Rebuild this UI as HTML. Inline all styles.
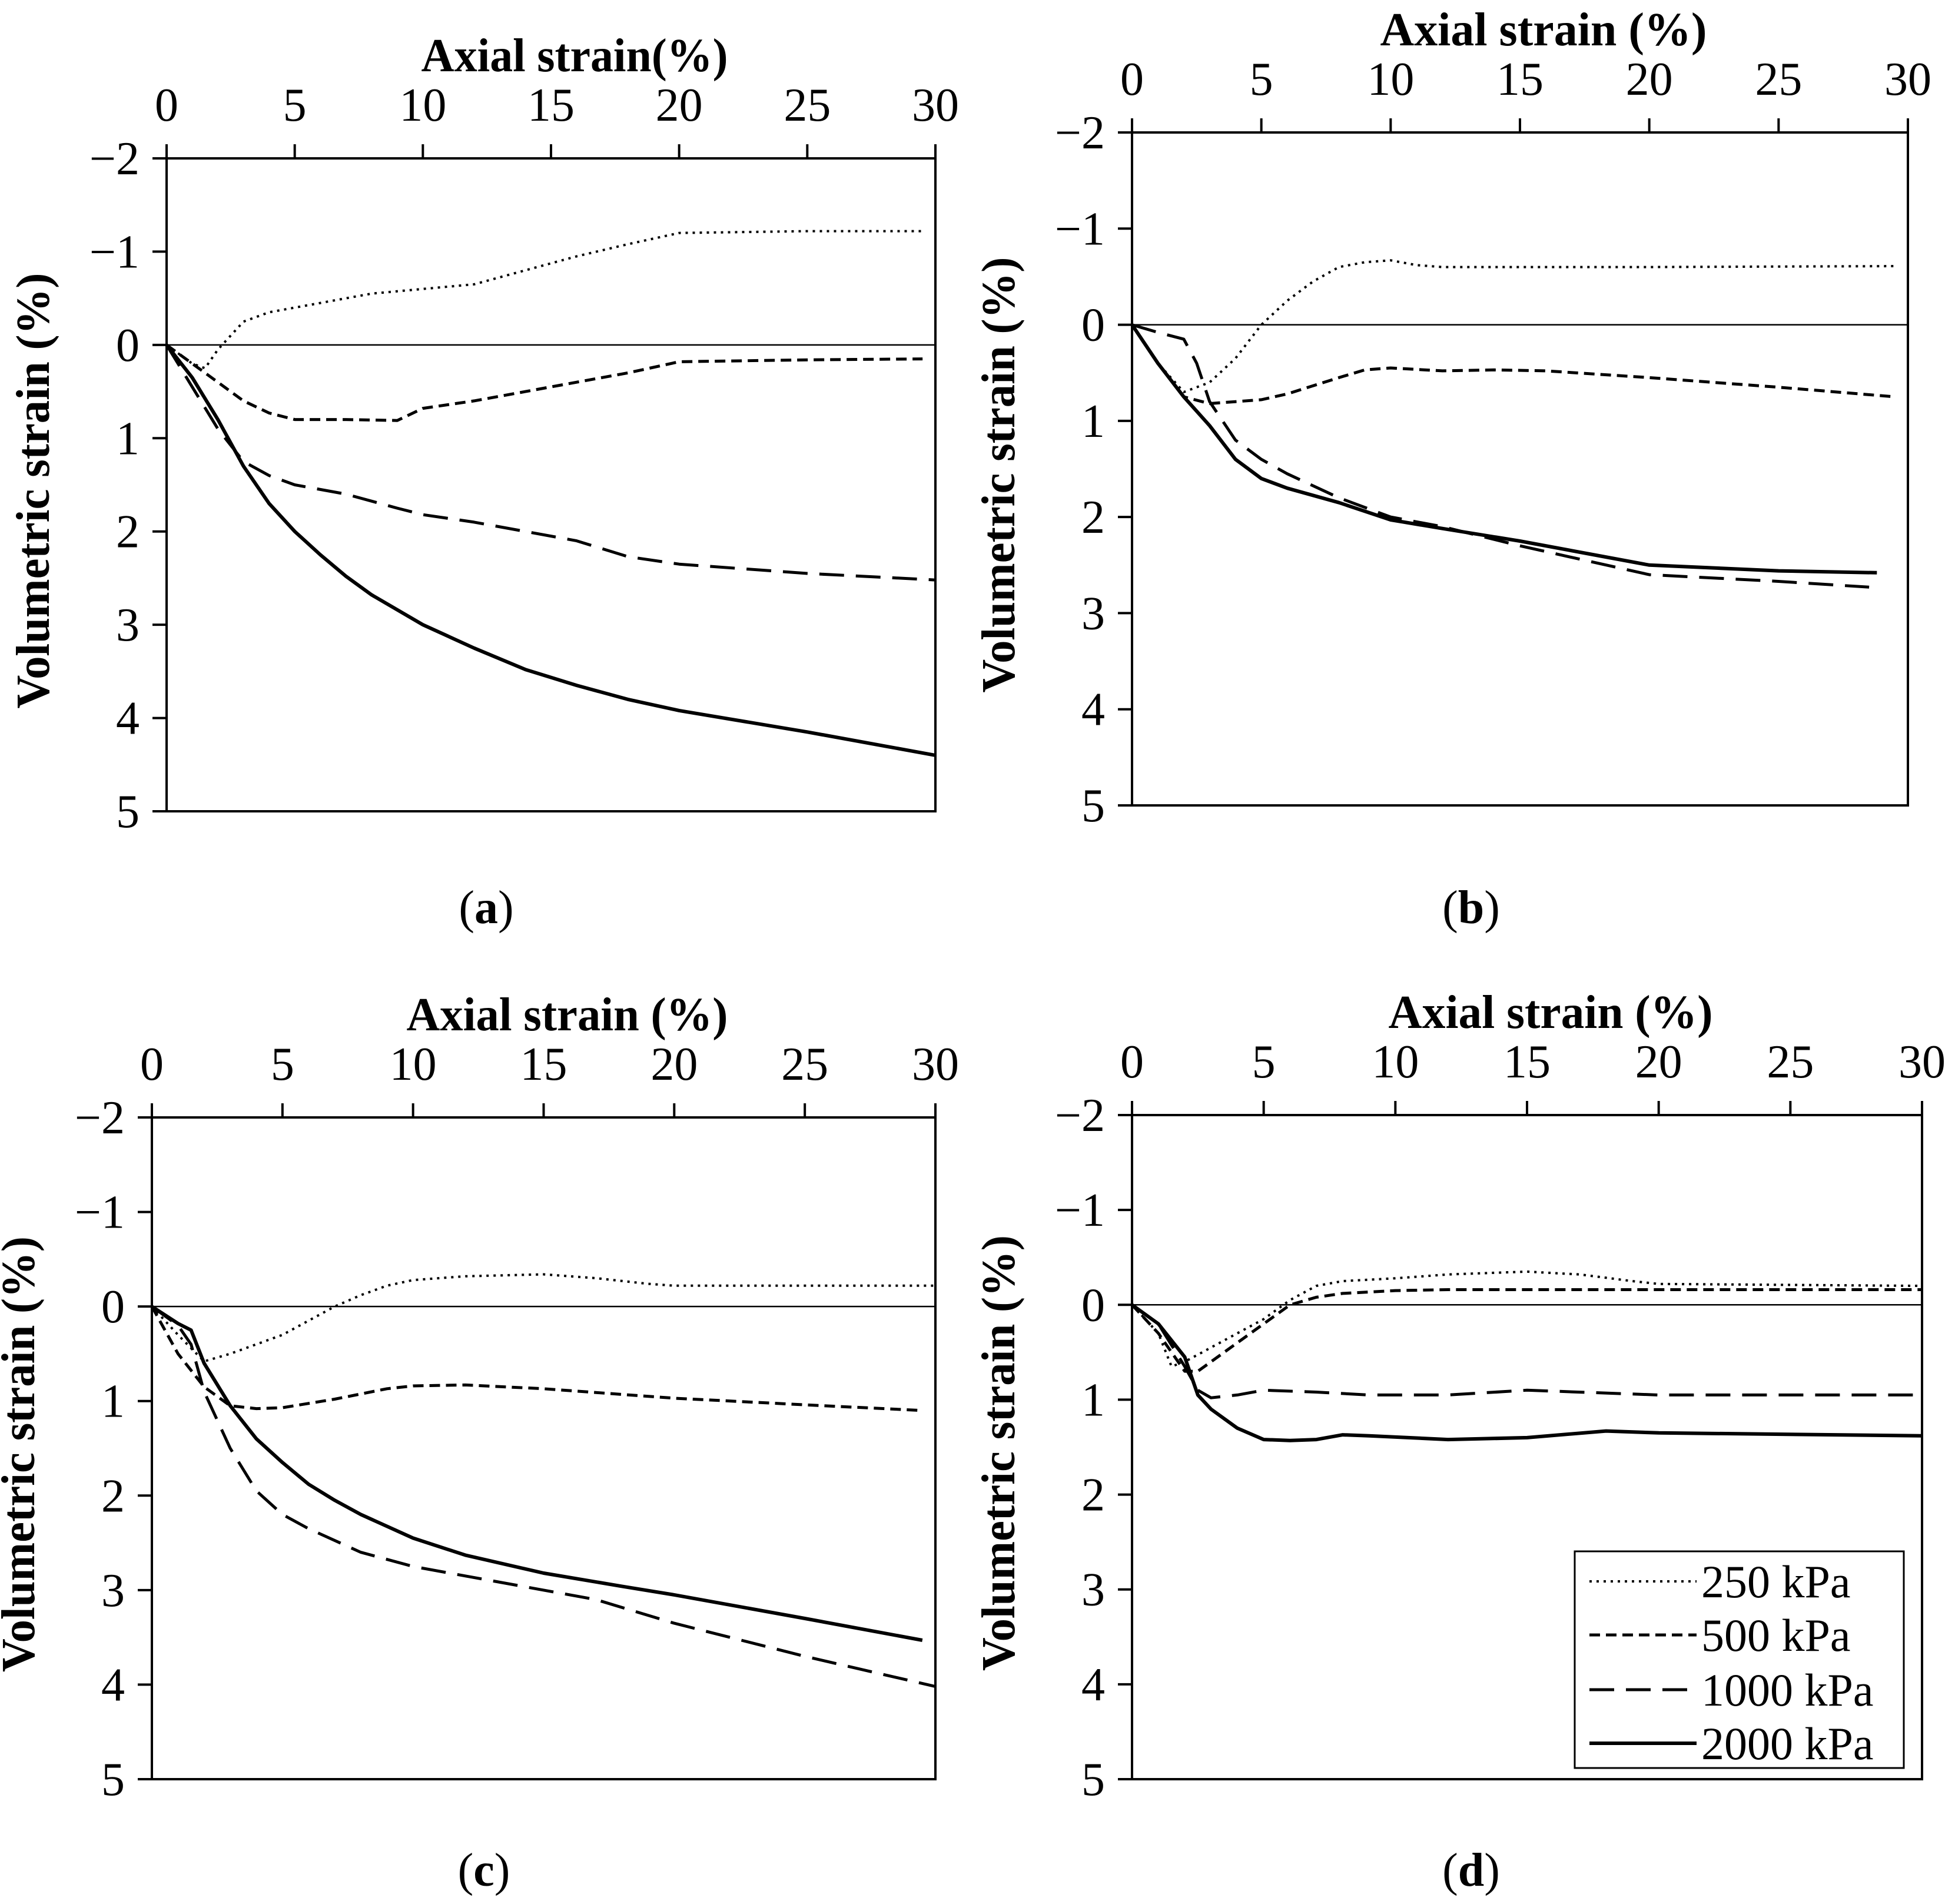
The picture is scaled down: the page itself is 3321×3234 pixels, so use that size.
<!DOCTYPE html>
<html><head><meta charset="utf-8"><style>
html,body{margin:0;padding:0;background:#fff;}
svg{display:block;}
text{font-family:"Liberation Serif",serif;fill:#000;}
</style></head>
<body>
<svg id="fig" width="3321" height="3234" viewBox="0 0 3321 3234" xmlns="http://www.w3.org/2000/svg"></svg>
<script>
// x tick labels and y tick labels
const xTicks = [0,5,10,15,20,25,30];
const yTicks = [-2,-1,0,1,2,3,4,5];
const seriesNames = ["250 kPa","500 kPa","1000 kPa","2000 kPa"];

// Panel (a)
const aX250 = [0,1,1.5,2,3,4,6,8,10,12,14,16,18,20,25,29.5];
const aY250 = [0,0.2,0.25,0.05,-0.25,-0.35,-0.45,-0.55,-0.6,-0.65,-0.8,-0.95,-1.08,-1.2,-1.22,-1.22];
const aX500 = [0,1,2,3,4,5,7,9,10,12,14,16,18,20,25,29.5];
const aY500 = [0,0.2,0.4,0.6,0.73,0.8,0.8,0.81,0.68,0.6,0.5,0.4,0.3,0.18,0.16,0.15];
const aX1000 = [0,1,2,3,4,5,7,9,10,12,14,16,18,20,25,30];
const aY1000 = [0,0.45,0.9,1.25,1.4,1.5,1.6,1.75,1.82,1.9,2.0,2.1,2.27,2.35,2.45,2.52];
const aX2000 = [0,1,2,3,4,5,6,7,8,10,12,14,16,18,20,25,30];
const aY2000 = [0,0.35,0.8,1.3,1.7,2.0,2.25,2.48,2.68,3.0,3.25,3.48,3.65,3.8,3.92,4.15,4.4];

// Panel (b)
const bX250 = [0,1,2,3,4,5,6,7,8,9,10,11,12,20,29.5];
const bY250 = [0,0.4,0.7,0.6,0.35,0.0,-0.25,-0.45,-0.6,-0.65,-0.67,-0.62,-0.6,-0.6,-0.61];
const bX500 = [0,1,2,3,4,5,6,8,9,10,12,14,16,20,25,29.5];
const bY500 = [0,0.4,0.75,0.82,0.8,0.78,0.72,0.55,0.47,0.45,0.48,0.47,0.48,0.55,0.65,0.75];
const bX1000 = [0,1,2,2.5,3,4,5,6,8,10,12,15,20,25,28.5];
const bY1000 = [0,0.08,0.15,0.4,0.8,1.2,1.4,1.55,1.8,2.0,2.1,2.3,2.6,2.67,2.73];
const bX2000 = [0,1,2,3,4,5,6,8,10,12,15,18,20,25,28.8];
const bY2000 = [0,0.4,0.75,1.05,1.4,1.6,1.7,1.85,2.03,2.12,2.25,2.4,2.5,2.56,2.58];

// Panel (c)
const cX250 = [0,1,2,3,5,7,8,9,10,12,15,17,19,20,25,30];
const cY250 = [0,0.3,0.58,0.5,0.3,0.0,-0.12,-0.22,-0.28,-0.32,-0.34,-0.3,-0.24,-0.22,-0.22,-0.22];
const cX500 = [0,1,2,3,4,5,7,9,10,12,15,20,25,29.5];
const cY500 = [0,0.5,0.85,1.05,1.08,1.07,0.98,0.87,0.84,0.83,0.87,0.97,1.04,1.1];
const cX1000 = [0,1,1.5,2,3,4,5,6,8,10,12,15,17,20,25,30];
const cY1000 = [0,0.2,0.4,0.9,1.5,1.95,2.2,2.35,2.6,2.75,2.85,3.0,3.1,3.35,3.7,4.02];
const cX2000 = [0,1,1.5,2,3,4,5,6,7,8,10,12,15,18,20,25,29.5];
const cY2000 = [0,0.18,0.25,0.6,1.05,1.4,1.65,1.88,2.05,2.2,2.45,2.63,2.82,2.96,3.05,3.3,3.53];

// Panel (d)
const dX250 = [0,1,1.5,2,3,4,5,6,7,8,10,12,15,17,19,20,30];
const dY250 = [0,0.3,0.65,0.6,0.45,0.3,0.15,-0.05,-0.2,-0.25,-0.28,-0.32,-0.35,-0.32,-0.25,-0.22,-0.2];
const dX500 = [0,1,2,2.5,3,4,5,6,7,8,10,12,20,30];
const dY500 = [0,0.3,0.7,0.7,0.6,0.4,0.2,0.0,-0.08,-0.12,-0.15,-0.16,-0.16,-0.16];
const dX1000 = [0,1,2,2.5,3,4,5,7,9,12,15,20,30];
const dY1000 = [0,0.2,0.65,0.9,0.98,0.95,0.9,0.92,0.95,0.95,0.9,0.95,0.95];
const dX2000 = [0,1,2,2.5,3,4,5,6,7,8,9,12,15,18,20,30];
const dY2000 = [0,0.2,0.55,0.95,1.1,1.3,1.42,1.43,1.42,1.37,1.38,1.42,1.4,1.33,1.35,1.38];

const NS = "http://www.w3.org/2000/svg";
const svg = document.getElementById('fig');
const styles = [
  {w:4, dash:"4 8"},
  {w:5, dash:"18 10"},
  {w:5, dash:"42 20"},
  {w:6, dash:""}
];
const panels = [
  {id:"a", L:283, R:1589, T:269, B:1378, title:"Axial strain(%)", tLen:521, cap:[826,1568],
   data:[[aX250,aY250],[aX500,aY500],[aX1000,aY1000],[aX2000,aY2000]]},
  {id:"b", L:1923, R:3241, T:225, B:1368, title:"Axial strain (%)", tLen:555, cap:[2499,1568],
   data:[[bX250,bY250],[bX500,bY500],[bX1000,bY1000],[bX2000,bY2000]]},
  {id:"c", L:258, R:1589, T:1898, B:3022, title:"Axial strain (%)", tLen:546, cap:[822,3203],
   data:[[cX250,cY250],[cX500,cY500],[cX1000,cY1000],[cX2000,cY2000]]},
  {id:"d", L:1923, R:3265, T:1894, B:3022, title:"Axial strain (%)", tLen:551, cap:[2499,3203],
   data:[[dX250,dY250],[dX500,dY500],[dX1000,dY1000],[dX2000,dY2000]]}
];
function mk(tag, attrs, parent){
  const e = document.createElementNS(NS, tag);
  for (const k in attrs) e.setAttribute(k, attrs[k]);
  (parent||svg).appendChild(e);
  return e;
}
panels.forEach(p => {
  const g = mk('g', {});
  
  
  const xs = v => p.L + (v - 0) / 30 * (p.R - p.L);
  const ys = v => p.T + (v + 2) / 7 * (p.B - p.T);
  const fr = mk('rect', {x:p.L, y:p.T, width:p.R-p.L, height:p.B-p.T, fill:"none", stroke:"#000", "stroke-width":4}, g);
  
  
  const zl = mk('line', {x1:p.L, x2:p.R, y1:ys(0), y2:ys(0), stroke:"#000", "stroke-width":2.5}, g);
  
  
  xTicks.forEach(t => {
    const tk = mk('line', {x1:xs(t), x2:xs(t), y1:p.T, y2:p.T-24, stroke:"#000", "stroke-width":4}, g);
    
    
    const tl = mk('text', {x:xs(t), y:p.T-64, "text-anchor":"middle", "font-size":80}, g);
    tl.textContent = t;
    
    
  });
  yTicks.forEach(t => {
    const tk = mk('line', {x1:p.L-24, x2:p.L, y1:ys(t), y2:ys(t), stroke:"#000", "stroke-width":4}, g);
    
    
    const tl = mk('text', {x:p.L-46, y:ys(t)+27, "text-anchor":"end", "font-size":80}, g);
    tl.textContent = t < 0 ? "\u2212" + Math.abs(t) : t;
    
    
  });
  const xt = mk('text', {x:(p.L+p.R)/2 + 40, y:p.T-148, "text-anchor":"middle", "font-size":80, "font-weight":"bold", textLength:p.tLen, lengthAdjust:"spacingAndGlyphs"}, g);
  xt.textContent = p.title;
  
  
  const cy = (p.T + p.B)/2 + 10;
  const yx = p.L - 200;
  const yt = mk('text', {x:yx, y:cy, "text-anchor":"middle", "font-size":80, "font-weight":"bold", textLength:740, lengthAdjust:"spacingAndGlyphs", transform:`rotate(-90 ${yx} ${cy})`}, g);
  yt.textContent = "Volumetric strain (%)";
  
  
  const cap = mk('text', {x:p.cap[0], y:p.cap[1], "text-anchor":"middle", "font-size":80}, g);
  cap.innerHTML = '(<tspan font-weight="bold">' + p.id + '</tspan>)';
  
  
  p.data.forEach((s, i) => {
    const pts = s[0].map((x, k) => xs(x).toFixed(1) + ',' + ys(s[1][k]).toFixed(1)).join(' ');
    const attrs = {points:pts, fill:"none", stroke:"#000", "stroke-width":styles[i].w, "stroke-linejoin":"round"};
    if (styles[i].dash) attrs["stroke-dasharray"] = styles[i].dash;
    const pl = mk('polyline', attrs, g);
    
    
  });
});
const lg = mk('g', {});


const lbox = mk('rect', {x:2675, y:2635, width:559, height:368, fill:"#fff", stroke:"#000", "stroke-width":3}, lg);


const legY = [2686, 2777, 2870, 2961];
seriesNames.forEach((n, i) => {
  const attrs = {x1:2700, x2:2882, y1:legY[i], y2:legY[i], stroke:"#000", "stroke-width":styles[i].w};
  if (styles[i].dash) attrs["stroke-dasharray"] = styles[i].dash;
  const ln = mk('line', attrs, lg);
  
  
  const t = mk('text', {x:2890, y:legY[i]+27, "font-size":78}, lg);
  t.textContent = n;
  
  
});
</script>
</body></html>
